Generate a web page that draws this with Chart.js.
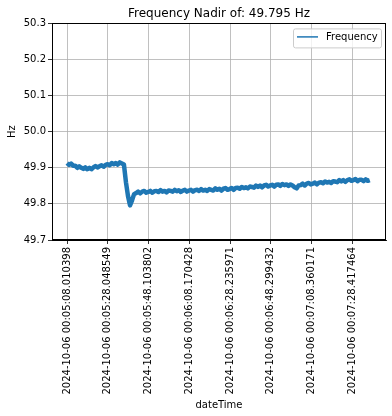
<!DOCTYPE html>
<html>
<head>
<meta charset="utf-8">
<script src="https://cdn.jsdelivr.net/npm/chart.js@4/dist/chart.umd.min.js"></script>
<style>
  html, body { margin: 0; padding: 0; background: #fff; }
  #wrap { width: 392px; height: 416px; }
</style>
</head>
<body>
<div id="wrap"><canvas id="freq-chart" width="392" height="416"></canvas></div>
<script>
'use strict';

// ─── Data ────────────────────────────────────────────────
// one sample per second, seconds after 2024-10-06 00:05:08.010398
const freqValues = [
  49.913, 49.908, 49.912, 49.906, 49.906, 49.900, 49.904, 49.900, 49.897, 49.901,
  49.896, 49.900, 49.896, 49.901, 49.905, 49.901, 49.904, 49.907, 49.903, 49.908,
  49.910, 49.907, 49.913, 49.910, 49.913, 49.909, 49.915, 49.912, 49.909, 49.860,
  49.822, 49.796, 49.810, 49.827, 49.830, 49.834, 49.829, 49.834, 49.836, 49.831,
  49.833, 49.836, 49.831, 49.835, 49.836, 49.833, 49.838, 49.834, 49.836, 49.832,
  49.837, 49.836, 49.834, 49.839, 49.835, 49.838, 49.833, 49.837, 49.839, 49.834,
  49.837, 49.839, 49.834, 49.838, 49.839, 49.836, 49.841, 49.837, 49.839, 49.836,
  49.841, 49.839, 49.837, 49.843, 49.839, 49.842, 49.837, 49.842, 49.844, 49.839,
  49.841, 49.844, 49.839, 49.844, 49.845, 49.842, 49.847, 49.844, 49.846, 49.843,
  49.848, 49.847, 49.845, 49.851, 49.847, 49.851, 49.846, 49.851, 49.853, 49.848,
  49.851, 49.853, 49.848, 49.853, 49.854, 49.850, 49.855, 49.852, 49.854, 49.850,
  49.854, 49.851, 49.846, 49.843, 49.851, 49.852, 49.856, 49.851, 49.856, 49.858,
  49.854, 49.856, 49.859, 49.854, 49.859, 49.860, 49.857, 49.862, 49.859, 49.861,
  49.858, 49.863, 49.862, 49.860, 49.866, 49.862, 49.866, 49.861, 49.866, 49.868,
  49.864, 49.866, 49.869, 49.863, 49.867, 49.867, 49.863, 49.868, 49.864, 49.866,
];

// x tick positions (seconds after start) and their labels
const xTickSecs = [0, 20.038151, 40.093404, 60.16003, 80.225573, 100.289034, 120.349773, 140.407066];
const xTickLabels = [
  '2024-10-06 00:05:08.010398',
  '2024-10-06 00:05:28.048549',
  '2024-10-06 00:05:48.103802',
  '2024-10-06 00:06:08.170428',
  '2024-10-06 00:06:28.235971',
  '2024-10-06 00:06:48.299432',
  '2024-10-06 00:07:08.360171',
  '2024-10-06 00:07:28.417464',
];
const yTicks = [49.7, 49.8, 49.9, 50.0, 50.1, 50.2, 50.3];

const points = freqValues.map((v, i) => ({ x: i, y: v }));

// ─── Plugins: frame + boxed legend ───────────────────────
const framePlugin = {
  id: 'frame',
  afterDraw(chart) {
    const { ctx: c, chartArea: { left, right, top, bottom } } = chart;
    c.save();
    c.strokeStyle = '#000';
    c.lineWidth = 1;
    c.strokeRect(Math.round(left) + 0.5, Math.round(top) + 0.5,
      Math.round(right - left) - 1, Math.round(bottom - top) - 1);
    c.restore();
  },
};

const boxLegend = {
  id: 'boxLegend',
  afterDraw(chart) {
    const { ctx: c, chartArea: { right, top } } = chart;
    const w = 88, h = 19;
    const x = right - 5 - w, y = top + 5;
    c.save();
    c.fillStyle = 'rgba(255,255,255,0.8)';
    c.strokeStyle = '#cccccc';
    c.lineWidth = 1;
    c.beginPath();
    c.roundRect(x + 0.5, y + 0.5, w, h, 2);
    c.fill(); c.stroke();
    c.strokeStyle = '#1f77b4';
    c.lineWidth = 1.5;
    c.beginPath(); c.moveTo(x + 4, y + 8.5); c.lineTo(x + 25, y + 8.5); c.stroke();
    c.fillStyle = '#000';
    c.font = "10px 'DejaVu Sans', sans-serif";
    c.textBaseline = 'middle';
    c.fillText(chart.data.datasets[0].label, x + 33, y + 9);
    c.restore();
  },
};

Chart.defaults.font.family = "'DejaVu Sans', sans-serif";
Chart.defaults.font.size = 10;
Chart.defaults.color = '#000';

const freqChart = new Chart(document.getElementById('freq-chart'), {
  type: 'line',
  data: {
    datasets: [{
      label: 'Frequency',
      data: points,
      borderColor: '#1f77b4',
      borderWidth: 4.5,
      borderJoinStyle: 'round',
      pointRadius: 0,
      tension: 0,
      fill: false,
    }],
  },
  options: {
    responsive: false,
    animation: false,
    layout: { padding: { left: 0, right: 6, top: 0, bottom: 0 } },
    scales: {
      x: {
        type: 'linear',
        min: -7.4,
        max: 157,
        afterBuildTicks(scale) { scale.ticks = xTickSecs.map(v => ({ value: v })); },
        afterFit(scale) { scale.height = 176; },
        ticks: {
          autoSkip: false,
          minRotation: 90,
          maxRotation: 90,
          padding: 3,
          callback: (v, i) => xTickLabels[i],
        },
        grid: { color: '#b0b0b0', lineWidth: 0.8, tickColor: '#000', tickLength: 4 },
        border: { color: '#000', width: 1 },
        title: { display: true, text: 'dateTime', font: { size: 10 }, padding: { top: 0, bottom: 5 } },
      },
      y: {
        min: 49.7,
        max: 50.3,
        afterBuildTicks(scale) { scale.ticks = yTicks.map(v => ({ value: v })); },
        afterFit(scale) { scale.width = 52; },
        ticks: { padding: 2, callback: v => v.toFixed(1) },
        grid: { color: '#b0b0b0', lineWidth: 0.8, tickColor: '#000', tickLength: 4 },
        border: { color: '#000', width: 1 },
        title: { display: true, text: 'Hz', font: { size: 10 }, padding: { top: 6, bottom: 0 } },
      },
    },
    plugins: {
      legend: { display: false },
      tooltip: { enabled: false },
      title: {
        display: true,
        fullSize: false,
        text: 'Frequency Nadir of: 49.795 Hz',
        font: { size: 12, weight: 'normal' },
        color: '#000',
        padding: { top: 7, bottom: 2 },
      },
    },
  },
  plugins: [framePlugin, boxLegend],
});
</script>
</body>
</html>
